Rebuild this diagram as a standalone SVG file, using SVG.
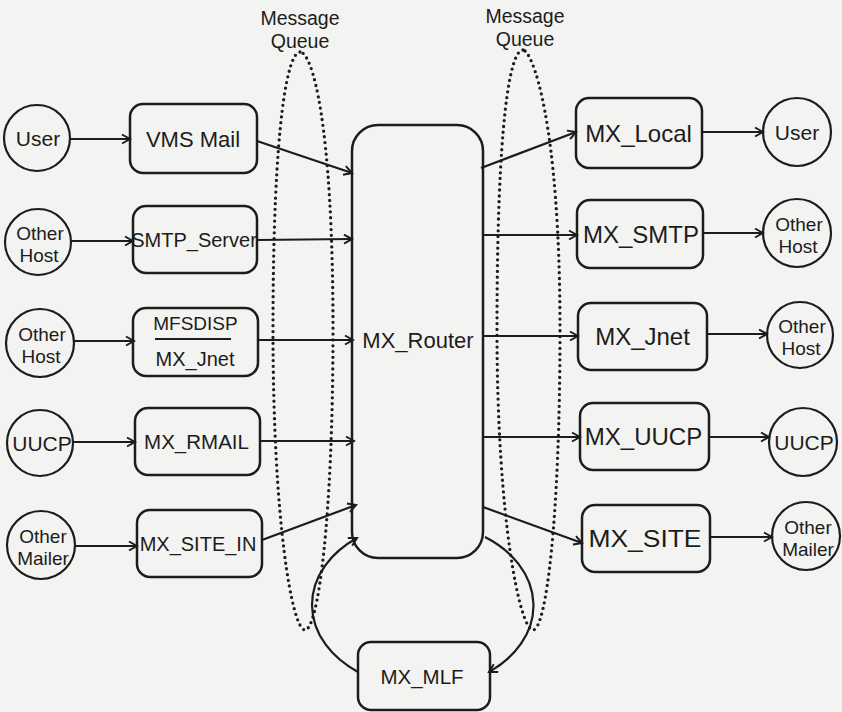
<svg xmlns="http://www.w3.org/2000/svg" width="842" height="712" viewBox="0 0 842 712">
<style>
.box{fill:none;stroke:#1c1c1c;stroke-width:2.5}
.circ{fill:none;stroke:#1c1c1c;stroke-width:2.2}
.ln{fill:none;stroke:#1c1c1c;stroke-width:2.2}
.q{fill:none;stroke:#1c1c1c;stroke-width:3.3;stroke-dasharray:0 5.8;stroke-linecap:round}
text{font-family:"Liberation Sans",Arial,sans-serif;fill:#1c1c1c;text-anchor:middle}
.t24{font-size:24px}
.t22{font-size:22px}
.t20{font-size:20.5px}
.c21{font-size:21px}
.c19{font-size:19px}
.lbl{font-size:19.5px}
</style>
<defs>
<marker id="arr" viewBox="-10 -6 12 12" refX="0" refY="0" markerWidth="12" markerHeight="12" markerUnits="userSpaceOnUse" orient="auto">
<path d="M-8,-4.5 L0,0 L-8,4.5" fill="none" stroke="#1c1c1c" stroke-width="2"/>
</marker>
</defs>
<rect width="842" height="712" fill="#f3f3f1"/>

<g id="queues">
<path class="q" d="M300,52 C288,52 273,120 273,330 C273,520 292,630 305,630 C318,630 333,520 333,330 C333,120 312,52 300,52 Z"/>
<path class="q" d="M523,50 C510,50 497,120 497,330 C497,520 520,630 533,630 C546,630 560,520 560,330 C560,120 532,50 523,50 Z"/>
<text class="lbl" x="300" y="25">Message</text>
<text class="lbl" x="300" y="48">Queue</text>
<text class="lbl" x="525" y="23">Message</text>
<text class="lbl" x="525" y="46">Queue</text>
</g>

<g id="connectors">
<line class="ln" x1="70" y1="139" x2="130" y2="139" marker-end="url(#arr)"/>
<line class="ln" x1="71" y1="241" x2="133" y2="241" marker-end="url(#arr)"/>
<line class="ln" x1="74" y1="341" x2="134" y2="341" marker-end="url(#arr)"/>
<line class="ln" x1="73" y1="442" x2="135" y2="442" marker-end="url(#arr)"/>
<line class="ln" x1="75" y1="546" x2="137" y2="546" marker-end="url(#arr)"/>

<line class="ln" x1="257" y1="141" x2="352" y2="173" marker-end="url(#arr)"/>
<line class="ln" x1="257" y1="240" x2="352" y2="239" marker-end="url(#arr)"/>
<line class="ln" x1="258" y1="340" x2="353" y2="340" marker-end="url(#arr)"/>
<line class="ln" x1="260" y1="441" x2="354" y2="441" marker-end="url(#arr)"/>
<line class="ln" x1="262" y1="540" x2="356" y2="505" marker-end="url(#arr)"/>

<line class="ln" x1="481" y1="168" x2="576" y2="132" marker-end="url(#arr)"/>
<line class="ln" x1="482" y1="235" x2="577" y2="235" marker-end="url(#arr)"/>
<line class="ln" x1="482" y1="336" x2="578" y2="336" marker-end="url(#arr)"/>
<line class="ln" x1="483" y1="437" x2="580" y2="437" marker-end="url(#arr)"/>
<line class="ln" x1="483" y1="507" x2="582" y2="543" marker-end="url(#arr)"/>

<line class="ln" x1="702" y1="132" x2="763" y2="132" marker-end="url(#arr)"/>
<line class="ln" x1="703" y1="233" x2="763" y2="233" marker-end="url(#arr)"/>
<line class="ln" x1="707" y1="334" x2="767" y2="334" marker-end="url(#arr)"/>
<line class="ln" x1="709" y1="437" x2="769" y2="437" marker-end="url(#arr)"/>
<line class="ln" x1="710" y1="537" x2="772" y2="537" marker-end="url(#arr)"/>

<path class="ln" d="M485,537 A111,83 0 0 1 489,672" marker-end="url(#arr)"/>
<path class="ln" d="M358,672 A111,83 0 0 1 357,538" marker-end="url(#arr)"/>
</g>

<g id="in-user"><circle class="circ" cx="37" cy="138" r="33"/><text class="c21" x="38" y="145.5">User</text></g>
<g id="in-host1"><circle class="circ" cx="38" cy="242" r="33"/><text class="c19" x="40" y="240">Other</text><text class="c19" x="39" y="262">Host</text></g>
<g id="in-host2"><circle class="circ" cx="40" cy="343" r="34"/><text class="c19" x="42" y="341">Other</text><text class="c19" x="41" y="363">Host</text></g>
<g id="in-uucp"><circle class="circ" cx="40" cy="443" r="33"/><text class="c21" x="42" y="450.5">UUCP</text></g>
<g id="in-mailer"><circle class="circ" cx="41" cy="545" r="34"/><text class="c19" x="43" y="543">Other</text><text class="c19" x="43" y="565">Mailer</text></g>

<g id="vms-mail"><rect class="box" x="130" y="104" width="127" height="69" rx="13"/><text class="t22" x="193" y="146.5">VMS Mail</text></g>
<g id="smtp-server"><rect class="box" x="133" y="206" width="124" height="67" rx="13"/><text style="font-size:20px" x="194" y="247">SMTP_Server</text></g>
<g id="mfsdisp"><rect class="box" x="133" y="308" width="125" height="68" rx="13"/><text x="195.5" y="330" style="font-size:19px">MFSDISP</text><line x1="155" y1="339" x2="231" y2="339" stroke="#1c1c1c" stroke-width="2"/><text x="195" y="366" style="font-size:20px">MX_Jnet</text></g>
<g id="mx-rmail"><rect class="box" x="135" y="408" width="125" height="67" rx="13"/><text class="t20" x="196.5" y="449">MX_RMAIL</text></g>
<g id="mx-site-in"><rect class="box" x="137" y="510" width="125" height="67" rx="13"/><text style="font-size:20px" x="198" y="551">MX_SITE_IN</text></g>

<g id="mx-router"><rect class="box" x="352" y="125" width="131" height="433" rx="26"/><text class="t22" x="418" y="348">MX_Router</text></g>

<g id="mx-local"><rect class="box" x="576" y="98" width="126" height="70" rx="13"/><text class="t24" x="638.5" y="141.5">MX_Local</text></g>
<g id="mx-smtp"><rect class="box" x="577" y="200" width="126" height="68" rx="13"/><text class="t24" x="641" y="242.5">MX_SMTP</text></g>
<g id="mx-jnet"><rect class="box" x="578" y="303" width="129" height="67" rx="13"/><text class="t24" x="642.5" y="345">MX_Jnet</text></g>
<g id="mx-uucp"><rect class="box" x="580" y="403" width="129" height="67" rx="13"/><text class="t24" x="643.5" y="445">MX_UUCP</text></g>
<g id="mx-site"><rect class="box" x="582" y="505" width="128" height="67" rx="13"/><text class="t24" x="645" y="547" textLength="113" lengthAdjust="spacingAndGlyphs">MX_SITE</text></g>

<g id="out-user"><circle class="circ" cx="797" cy="132" r="34"/><text class="c21" x="797" y="139.5">User</text></g>
<g id="out-host1"><circle class="circ" cx="797" cy="233" r="34"/><text class="c19" x="799" y="231">Other</text><text class="c19" x="798" y="253">Host</text></g>
<g id="out-host2"><circle class="circ" cx="800" cy="335" r="33"/><text class="c19" x="802" y="333">Other</text><text class="c19" x="801" y="355">Host</text></g>
<g id="out-uucp"><circle class="circ" cx="803" cy="442" r="34"/><text class="c21" x="804" y="449.5">UUCP</text></g>
<g id="out-mailer"><circle class="circ" cx="806" cy="536" r="34"/><text class="c19" x="808" y="534">Other</text><text class="c19" x="808" y="556">Mailer</text></g>

<g id="mx-mlf"><rect class="box" x="358" y="642" width="132" height="68" rx="13"/><text class="t20" x="422" y="683.5">MX_MLF</text></g>
</svg>
